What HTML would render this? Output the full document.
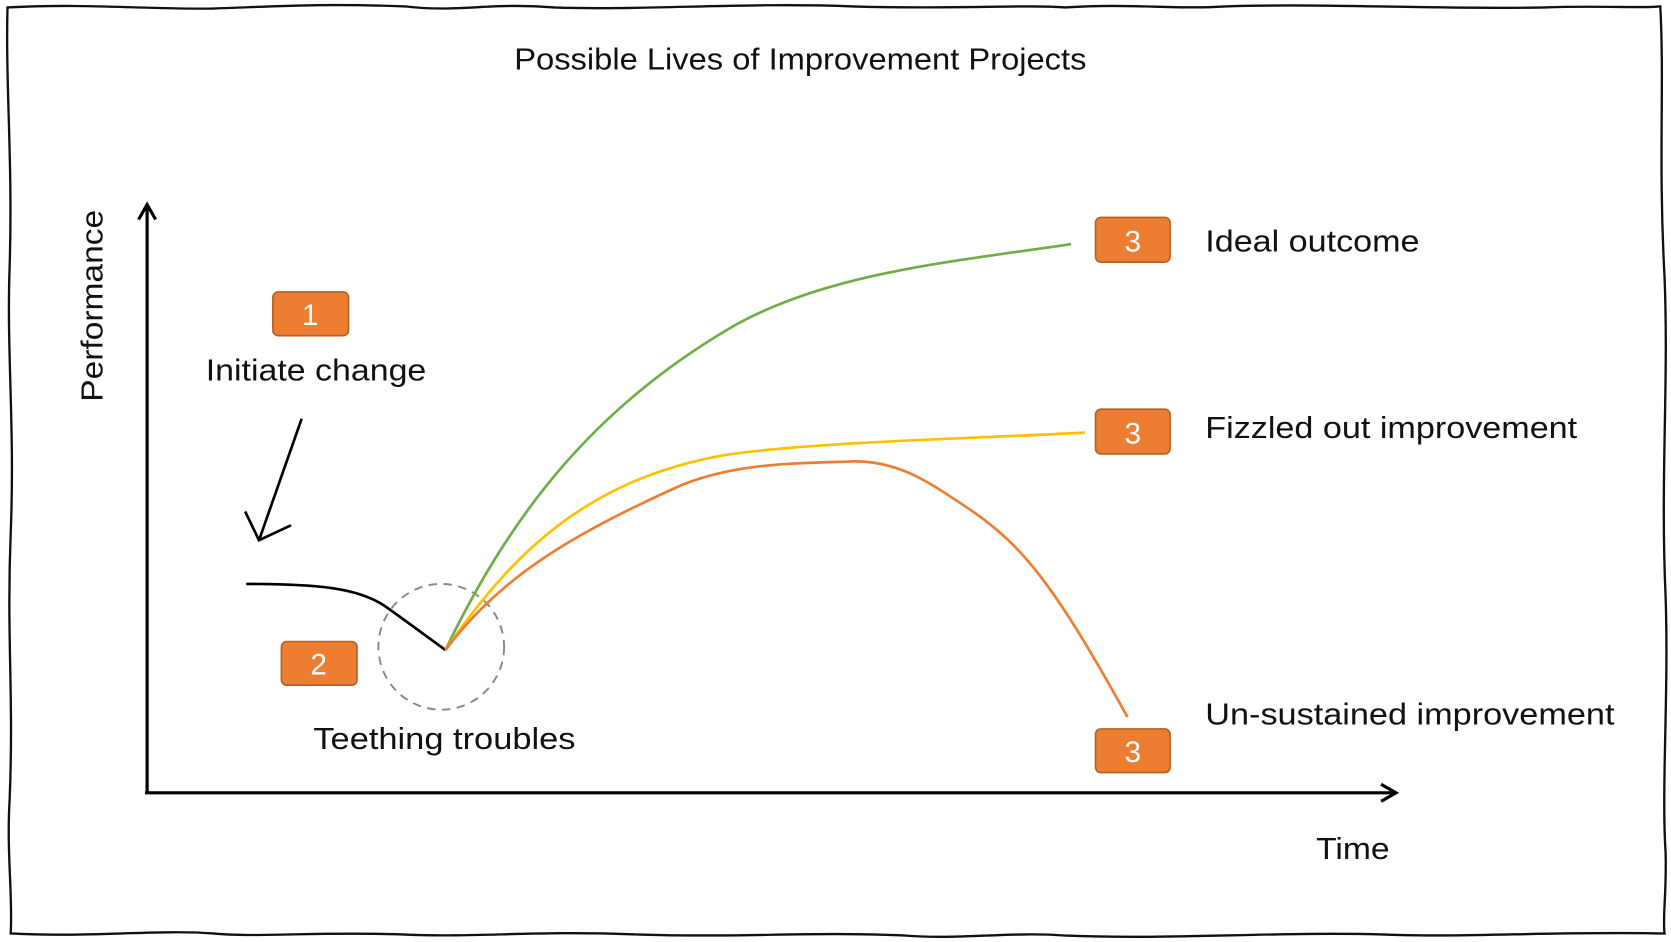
<!DOCTYPE html>
<html><head><meta charset="utf-8"><style>
html,body{margin:0;padding:0;background:#fff;}
svg{display:block;}
text{font-family:"Liberation Sans",sans-serif;fill:#111;}
</style></head><body>
<svg width="1671" height="942" viewBox="0 0 1568 884" xmlns="http://www.w3.org/2000/svg">
<path d="M7,7 C80,3 140,9 200,8 C260,6 300,3 380,6 C430,12 460,2 520,7 C600,10 700,2 800,6 C900,9 960,4 1000,7 C1060,3 1100,9 1150,6 C1250,3 1350,9 1450,7 C1500,5 1540,8 1558,6 C1562,80 1556,150 1562,260 C1566,360 1558,450 1563,560 C1566,650 1559,740 1563,800 C1564,840 1560,860 1562,876 C1450,874 1380,880 1300,877 C1200,874 1100,882 1000,878 C950,874 900,882 850,878 C760,874 700,880 600,877 C500,873 450,880 380,877 C300,874 240,880 200,876 C150,872 80,880 10,876 C12,840 6,800 9,750 C13,650 6,600 10,500 C14,400 6,330 9,250 C12,150 5,80 7,7 Z" fill="none" stroke="#111" stroke-width="2.2"/>
<text x="751" y="65" font-size="29" text-anchor="middle" textLength="537" lengthAdjust="spacingAndGlyphs">Possible Lives of Improvement Projects</text>
<g stroke="#000" stroke-width="3" fill="none">
<path d="M138,744 L138,192"/><path d="M130,206 L138,192 L146,206"/>
<path d="M136,744 L1308,744"/><path d="M1296,736 L1310,744 L1296,752"/>
</g>
<text transform="translate(96,287) rotate(-90)" font-size="29" text-anchor="middle" textLength="180" lengthAdjust="spacingAndGlyphs">Performance</text>
<text x="1235" y="806" font-size="29" textLength="69" lengthAdjust="spacingAndGlyphs">Time</text>
<g stroke="#000" stroke-width="2.5" fill="none">
<path d="M283,393 L243,507"/><path d="M230,480 L243,507 L273,493"/>
<path d="M231,548 C300,548 335,552 360,568 C380,582 400,597 418,610"/>
</g>
<circle cx="414" cy="607" r="59" fill="none" stroke="#888" stroke-width="1.8" stroke-dasharray="8,6"/>
<path d="M418,610 C480,480 560,380 690,305 C780,255 900,245 1005,229" fill="none" stroke="#70AD47" stroke-width="2.5"/>
<path d="M418,610 C480,520 550,450 680,427 C760,415 900,412 1018,406" fill="none" stroke="#FFC000" stroke-width="2.5"/>
<path d="M418,610 C470,540 540,500 640,455 C690,435 740,435 800,433 C845,432 875,455 910,478 C960,512 990,550 1058,673" fill="none" stroke="#ED7D31" stroke-width="2.5"/>
<g fill="#ED7D31" stroke="#B85E22" stroke-width="1.5">
<rect x="256" y="274" width="71" height="41" rx="5"/>
<rect x="264" y="602" width="71" height="41" rx="5"/>
<rect x="1028" y="204" width="70" height="42" rx="5"/>
<rect x="1028" y="384" width="70" height="42" rx="5"/>
<rect x="1028" y="684" width="70" height="41" rx="5"/>
</g>
<g font-size="28" text-anchor="middle">
<text x="291" y="305" style="fill:#fff">1</text>
<text x="299" y="633" style="fill:#fff">2</text>
<text x="1063" y="236" style="fill:#fff">3</text>
<text x="1063" y="416" style="fill:#fff">3</text>
<text x="1063" y="715" style="fill:#fff">3</text>
</g>
<text x="193" y="357" font-size="29" textLength="207" lengthAdjust="spacingAndGlyphs">Initiate change</text>
<text x="294" y="703" font-size="29" textLength="246" lengthAdjust="spacingAndGlyphs">Teething troubles</text>
<text x="1131" y="236" font-size="29" textLength="201" lengthAdjust="spacingAndGlyphs">Ideal outcome</text>
<text x="1131" y="411" font-size="29" textLength="349" lengthAdjust="spacingAndGlyphs">Fizzled out improvement</text>
<text x="1131" y="680" font-size="29" textLength="384" lengthAdjust="spacingAndGlyphs">Un-sustained improvement</text>
</svg>
</body></html>
